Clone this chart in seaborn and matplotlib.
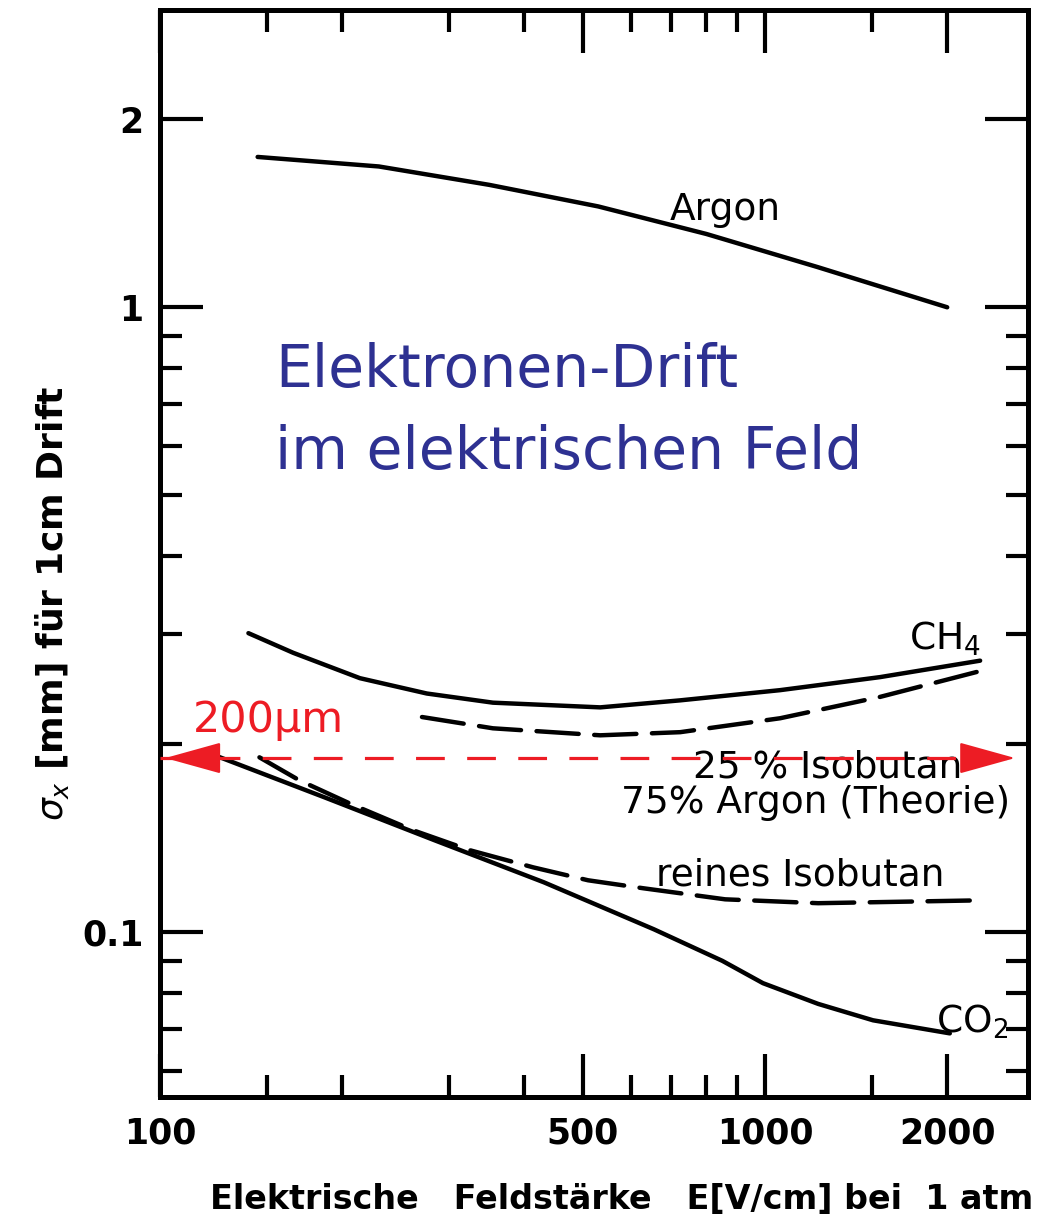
import matplotlib
matplotlib.use("Agg")
import matplotlib.pyplot as plt
import seaborn as sns
from matplotlib.ticker import FixedLocator, FixedFormatter, NullFormatter

# ---------------- data ----------------
argon_E = [145, 230, 350, 530, 800, 1220, 2000]
argon_s = [1.74, 1.68, 1.57, 1.45, 1.31, 1.16, 1.00]

ch4_E = [140, 166, 214, 276, 355, 534, 724, 1059, 1549, 2267]
ch4_s = [0.301, 0.280, 0.255, 0.241, 0.233, 0.229, 0.235, 0.244, 0.256, 0.272]

mix_E = [271, 355, 534, 724, 1059, 1549, 2293]
mix_s = [0.221, 0.212, 0.2066, 0.209, 0.220, 0.238, 0.2625]

co2_E = [118, 187, 284, 431, 655, 850, 992, 1224, 1508, 2020]
co2_s = [0.195, 0.1644, 0.1404, 0.1202, 0.1011, 0.090, 0.0829, 0.0768, 0.0723, 0.0689]

iso_E = [146, 170, 208, 262, 325, 414, 510, 629, 859, 1224, 2293]
iso_s = [0.1905, 0.175, 0.160, 0.1456, 0.1353, 0.127, 0.1211, 0.1176, 0.1129, 0.1113, 0.1125]

x_major = [100, 500, 1000, 2000]
x_major_labels = ["100", "500", "1000", "2000"]
x_minor = [150, 200, 300, 400, 600, 700, 800, 900, 1500]
y_major = [0.1, 1, 2]
y_major_labels = ["0.1", "1", "2"]
y_minor = [0.06, 0.07, 0.08, 0.09, 0.2, 0.3, 0.4, 0.5, 0.6, 0.7, 0.8, 0.9]

ref_level = 0.19          # 200 µm marker line (as drawn)
ref_E = [100, 2600]

# ---------------- figure ----------------
sns.set_style("white")
plt.rcParams["font.family"] = ["DejaVu Sans"]
plt.rcParams["text.color"] = "black"
plt.rcParams["axes.labelcolor"] = "black"
plt.rcParams["xtick.color"] = "black"
plt.rcParams["ytick.color"] = "black"

W, H = 1058, 1223
fig = plt.figure(figsize=(W / 100, H / 100), dpi=100)
ax = fig.add_axes([160 / W, 126 / H, 868 / W, 1087 / H])
ax.set_xscale("log")
ax.set_yscale("log")

lw = 3.2
sns.lineplot(x=argon_E, y=argon_s, ax=ax, color="black", lw=lw, solid_capstyle="round")
sns.lineplot(x=ch4_E, y=ch4_s, ax=ax, color="black", lw=lw, solid_capstyle="round")
sns.lineplot(x=co2_E, y=co2_s, ax=ax, color="black", lw=lw, solid_capstyle="round")
sns.lineplot(x=mix_E, y=mix_s, ax=ax, color="black", lw=lw,
             linestyle=(0, (9.5, 3.5)), dash_capstyle="round")
sns.lineplot(x=iso_E, y=iso_s, ax=ax, color="black", lw=lw,
             linestyle=(0, (9.5, 3.5)), dash_capstyle="round")

ax.set_xlim(100, 2720)
ax.set_ylim(0.0545, 2.99)

# ticks
ax.xaxis.set_major_locator(FixedLocator(x_major))
ax.xaxis.set_major_formatter(FixedFormatter(x_major_labels))
ax.xaxis.set_minor_locator(FixedLocator(x_minor))
ax.xaxis.set_minor_formatter(NullFormatter())
ax.yaxis.set_major_locator(FixedLocator(y_major))
ax.yaxis.set_major_formatter(FixedFormatter(y_major_labels))
ax.yaxis.set_minor_locator(FixedLocator(y_minor))
ax.yaxis.set_minor_formatter(NullFormatter())

ax.tick_params(which="both", direction="in", top=True, right=True,
               bottom=True, left=True, color="black", width=3)
ax.tick_params(which="major", length=31)
ax.tick_params(which="minor", length=16)
ax.tick_params(axis="x", which="major", pad=14, labelsize=25, labelcolor="black")
ax.tick_params(axis="y", which="major", pad=12, labelsize=25, labelcolor="black")
for lab in ax.get_xticklabels() + ax.get_yticklabels():
    lab.set_fontweight("bold")

for sp in ax.spines.values():
    sp.set_linewidth(3.6)
    sp.set_color("black")

ax.set_xlabel("Elektrische   Feldstärke   E[V/cm] bei  1 atm",
              fontsize=24, fontweight="bold", va="center")
ax.xaxis.set_label_coords((622 - 160) / 868, -(1200 - 1097) / 1087)
ax.set_ylabel(r"$\sigma_x$ [mm] für 1cm Drift", fontsize=26,
              fontweight="bold", va="center")
ax.yaxis.set_label_coords(-(160 - 52) / 868, (1097 - 603) / 1087)

# curve labels
lab_kw = dict(fontsize=27, color="black", ha="center", va="center")
ax.text(859, 1.43, "Argon", **lab_kw)
ax.text(1984, 0.295, r"CH$_4$", **lab_kw)
ax.text(1271, 0.1837, "25 % Isobutan", **lab_kw)
ax.text(1214, 0.1608, "75% Argon (Theorie)", **lab_kw)
ax.text(1143, 0.1234, "reines Isobutan", **lab_kw)
ax.text(2198, 0.0718, r"CO$_2$", **lab_kw)

# red 200 µm marker
red = "#ed1c24"
ax.plot(ref_E, [ref_level, ref_level], color=red, lw=2.3,
        linestyle=(0, (9, 7)), zorder=5)
head = dict(arrowstyle="-|>,head_length=1.8,head_width=0.5", color=red,
            mutation_scale=20, shrinkA=0, shrinkB=0, lw=1.5)
ax.annotate("", xy=(102, ref_level), xytext=(124, ref_level), arrowprops=head, zorder=6)
ax.annotate("", xy=(2590, ref_level), xytext=(2180, ref_level), arrowprops=head, zorder=6)
ax.text(151, 0.2184, "200µm", fontsize=31, color=red, ha="center", va="center")

# blue title text
blue = "#2e3192"
ax.text(155, 0.793, "Elektronen-Drift", fontsize=42, color=blue,
        ha="left", va="center")
ax.text(155, 0.586, "im elektrischen Feld", fontsize=42, color=blue,
        ha="left", va="center")

fig.savefig("out.png", dpi=100)
